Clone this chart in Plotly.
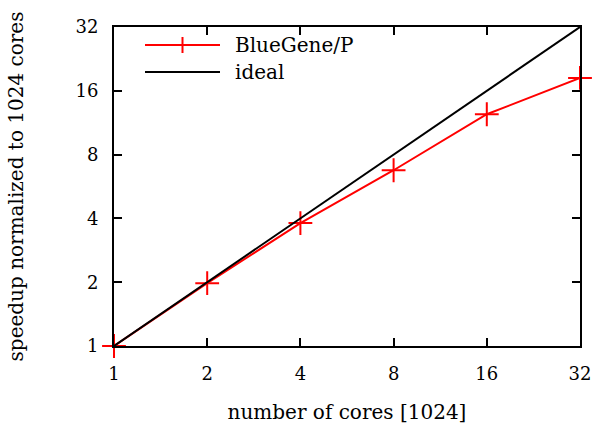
import plotly.graph_objects as go

cores = [1, 2, 4, 8, 16, 32]
speedup_bgp = [1.0, 1.98, 3.8, 6.75, 12.4, 18.4]
ideal = [1, 2, 4, 8, 16, 32]
tick_vals = [1, 2, 4, 8, 16, 32]
tick_text = ["1", "2", "4", "8", "16", "32"]
legend_names = ["BlueGene/P", "ideal"]

font = "DejaVu Serif"
tsize = 18
lsize = 20

fig = go.Figure()
fig.add_trace(go.Scatter(
    x=cores, y=speedup_bgp, name=legend_names[0], mode="lines+markers",
    line=dict(color="red", width=2),
    marker=dict(symbol="cross-thin", size=17, line=dict(color="red", width=2)),
    cliponaxis=False, showlegend=False,
))
fig.add_trace(go.Scatter(
    x=cores, y=ideal, name=legend_names[1], mode="lines",
    line=dict(color="black", width=2),
    cliponaxis=True, showlegend=False,
))

axis_common = dict(
    type="log", showgrid=False, zeroline=False, automargin=False,
    showline=True, linecolor="black", linewidth=2, mirror="allticks",
    ticks="inside", ticklen=8, tickwidth=2, tickcolor="black",
    tickvals=tick_vals, ticktext=tick_text, ticklabelstandoff=10,
    tickfont=dict(family=font, size=tsize, color="black"),
)
fig.update_xaxes(**axis_common, range=[0, 1.50515],
                 title=dict(text="number of cores [1024]", font=dict(family=font, size=lsize, color="black"), standoff=22))
fig.update_yaxes(**axis_common, range=[0, 1.50515],
                 title=dict(text="speedup normalized to 1024 cores", font=dict(family=font, size=lsize, color="black"), standoff=46))

# custom legend (long line samples as in the reference)
pw, ph = 466.0, 319.0
def px(x):
    return x / pw
def py(y):
    return 1 - y / ph
rows = [(18, "red", True), (45, "black", False)]
shapes = []
annotations = []
for (yy, col, cross), name in zip(rows, legend_names):
    shapes.append(dict(type="line", xref="paper", yref="paper",
                       x0=px(31), x1=px(106), y0=py(yy), y1=py(yy),
                       line=dict(color=col, width=2)))
    if cross:
        shapes.append(dict(type="line", xref="paper", yref="paper",
                           x0=px(68.5), x1=px(68.5), y0=py(yy - 8), y1=py(yy + 8),
                           line=dict(color=col, width=2)))
    annotations.append(dict(xref="paper", yref="paper", x=px(119), y=py(yy),
                            xanchor="left", yanchor="middle", showarrow=False,
                            text=name, font=dict(family=font, size=lsize, color="black")))

fig.update_layout(
    width=594, height=426,
    margin=dict(l=114, r=14, t=27, b=80),
    paper_bgcolor="white", plot_bgcolor="white",
    showlegend=False, shapes=shapes, annotations=annotations,
)

fig.write_html("out.html", config={"displayModeBar": False},
               post_script="document.body.style.margin='0';document.body.style.overflow='hidden';")
